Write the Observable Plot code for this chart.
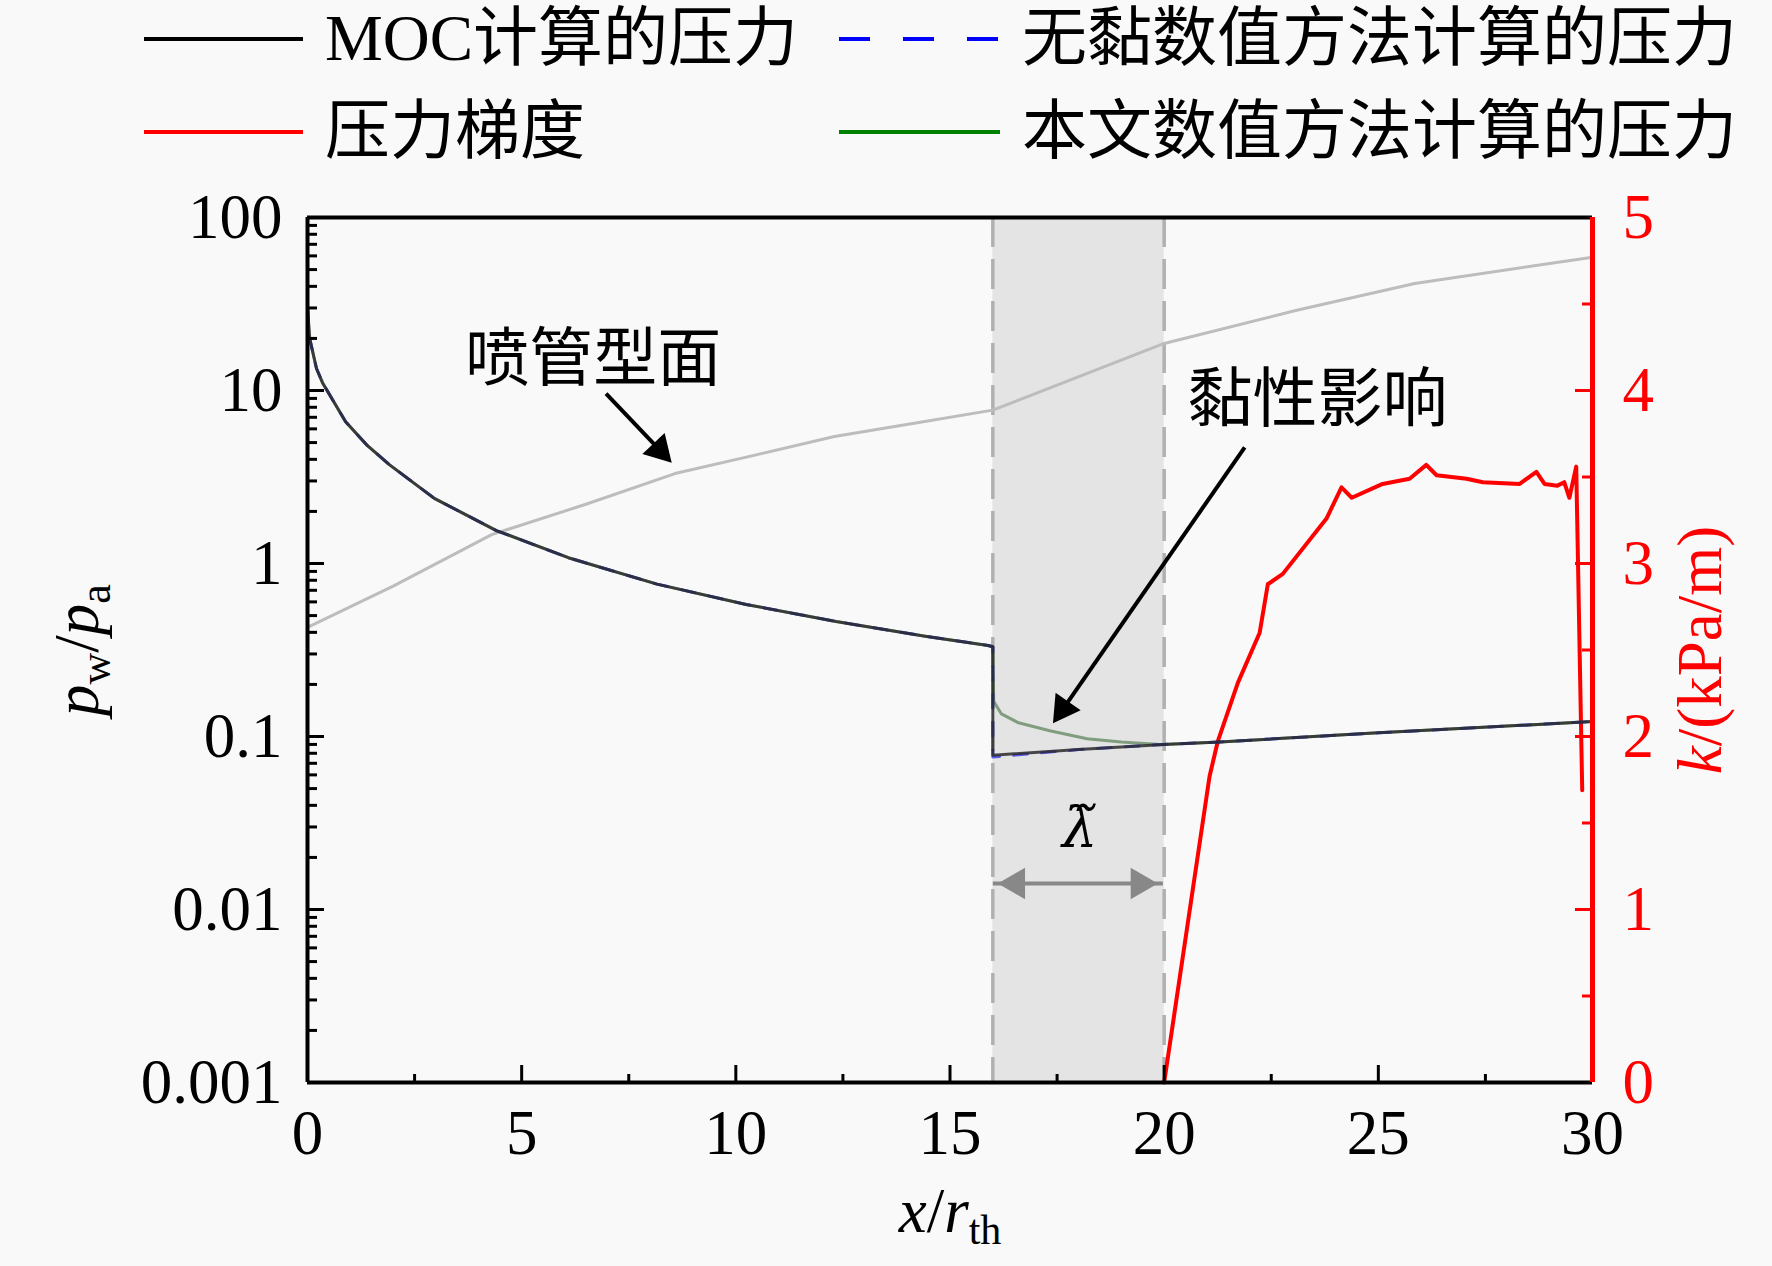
<!DOCTYPE html>
<html><head><meta charset="utf-8">
<script src="https://cdn.jsdelivr.net/npm/d3@7"></script>
<script src="https://cdn.jsdelivr.net/npm/@observablehq/plot@0.6"></script>
<style>
html,body{margin:0;padding:0;background:#f9f9f9;}
#wrap{width:1772px;height:1266px;position:relative;overflow:hidden}
svg{display:block}
</style></head><body><div id="wrap"></div>
<script>
// ---------- data ----------
const mocX = [0, 0.05, 0.21, 0.35, 0.89, 1.4, 1.91, 2.96, 4.41, 6.09, 8.16, 10.24, 12.34, 14.42, 15.89, 16.0, 16.0, 18.0, 20.0, 21.3, 25.0, 30.0];
const mocY = [30, 20, 13.4, 11.1, 6.6, 4.8, 3.73, 2.38, 1.55, 1.08, 0.76, 0.58, 0.462, 0.38, 0.336, 0.33, 0.078, 0.084, 0.09, 0.093, 0.105, 0.122];
const invX = [0, 0.05, 0.21, 0.35, 0.89, 1.4, 1.91, 2.96, 4.41, 6.09, 8.16, 10.24, 12.34, 14.42, 15.89, 16.0, 16.0, 17.0, 18.0, 20.0, 21.3, 25.0, 30.0];
const invY = [30, 20, 13.4, 11.1, 6.6, 4.8, 3.73, 2.38, 1.55, 1.08, 0.76, 0.58, 0.462, 0.38, 0.336, 0.33, 0.076, 0.080, 0.084, 0.09, 0.093, 0.105, 0.122];
const visX = [0, 0.05, 0.21, 0.35, 0.89, 1.4, 1.91, 2.96, 4.41, 6.09, 8.16, 10.24, 12.34, 14.42, 15.89, 16.0, 16.02, 16.2, 16.6, 17.33, 18.2, 19.0, 19.9, 21.3, 25.0, 30.0];
const visY = [30, 20, 13.4, 11.1, 6.6, 4.8, 3.73, 2.38, 1.55, 1.08, 0.76, 0.58, 0.462, 0.38, 0.336, 0.33, 0.16, 0.135, 0.12, 0.108, 0.097, 0.093, 0.090, 0.093, 0.105, 0.122];
const nozX = [0, 2, 4.3, 6.5, 8.58, 10.5, 12.3, 14.2, 16.0, 20.0, 23.07, 25.85, 30];
const nozY = [0.427, 0.74, 1.47, 2.2, 3.31, 4.26, 5.42, 6.49, 7.7, 18.7, 29.0, 41.5, 59];
const gradX = [20.0, 21.06, 21.25, 21.72, 22.23, 22.42, 22.77, 23.79, 24.14, 24.38, 25.1, 25.73, 26.12, 26.36, 27.06, 27.44, 28.3, 28.69, 28.88, 29.18, 29.34, 29.46, 29.62, 29.76];
const gradK = [0, 1.77, 1.97, 2.31, 2.60, 2.88, 2.94, 3.26, 3.44, 3.38, 3.46, 3.49, 3.57, 3.51, 3.49, 3.47, 3.46, 3.53, 3.46, 3.45, 3.47, 3.38, 3.56, 1.69];

const xTicks = [0, 5, 10, 15, 20, 25, 30];
const xMinor = [2.5, 7.5, 12.5, 17.5, 22.5, 27.5];
const yTicks = [0.001, 0.01, 0.1, 1, 10, 100];
const yLabels = ["0.001", "0.01", "0.1", "1", "10", "100"];
const yMinorMult = [2, 3, 4, 5, 6, 7, 8, 9];
const kTicks = [0, 1, 2, 3, 4, 5];
const kMinor = [0.5, 1.5, 2.5, 3.5, 4.5];

const viscRegion = [16, 20];
const legendLabels = ["MOC计算的压力", "无黏数值方法计算的压力", "压力梯度", "本文数值方法计算的压力"];
const annoText = [
  {t: "喷管型面", x: 6.67, y: 15.1, size: 64},
  {t: "黏性影响", x: 23.58, y: 8.75, size: 65}
];
const arrowsBlack = [
  {x1: 6.97, y1: 9.6, x2: 8.22, y2: 4.53, rot: 136.6},
  {x1: 21.88, y1: 4.69, x2: 17.64, y2: 0.1445, rot: 214.9}
];
const lamArrow = {x1: 16.0, x2: 19.97, y: 0.01413, heads: [{x: 16.54, rot: 270}, {x: 19.43, rot: 90}]};
const lamLabel = {t: "\u03BB\u0303", x: 18.03, y: 0.029};

// ---------- helpers ----------
const FONT = "'Liberation Serif','Noto Sans CJK SC',serif";
const zip = (X, Y) => X.map((x, i) => ({x, y: Y[i]}));
const kToY = k => Math.pow(10, k - 3);   // right axis (0..5 linear) onto left log scale

const W = 1772, LEGH = 180, H = 1266 - LEGH;
const mL = 307, mR = 180, mT = 37, mB = 184;
const plotW = W - mL - mR, plotH = H - mT - mB;

const yMinor = [];
for (const d of [0.001, 0.01, 0.1, 1, 10]) for (const m of yMinorMult) yMinor.push(d * m);

// ---------- legend ----------
const wrap = document.getElementById("wrap");
const leg = d3.create("svg").attr("width", W).attr("height", LEGH)
  .style("font-family", FONT).style("font-size", "65px");
const legItems = [
  {x0: 144, x1: 303, y: 39, tx: 325, ty: 60, color: "black", dash: null, label: legendLabels[0]},
  {x0: 839, x1: 1000, y: 39, tx: 1022, ty: 60, color: "#0000ff", dash: "31,33", label: legendLabels[1]},
  {x0: 144, x1: 303, y: 132, tx: 325, ty: 153, color: "#ff0000", dash: null, label: legendLabels[2]},
  {x0: 839, x1: 1000, y: 132, tx: 1022, ty: 153, color: "#008000", dash: null, label: legendLabels[3]}
];
for (const it of legItems) {
  leg.append("line").attr("x1", it.x0).attr("x2", it.x1).attr("y1", it.y).attr("y2", it.y)
    .attr("stroke", it.color).attr("stroke-width", 4).attr("stroke-dasharray", it.dash);
  leg.append("text").attr("x", it.tx).attr("y", it.ty).attr("fill", "black").text(it.label);
}
wrap.appendChild(leg.node());

// ---------- plot ----------
const chart = Plot.plot({
  width: W, height: H,
  marginLeft: mL, marginRight: mR, marginTop: mT, marginBottom: mB,
  style: {background: "transparent", fontFamily: FONT, fontSize: "63px", color: "black", overflow: "visible"},
  x: {domain: [0, 30], label: null},
  y: {type: "log", domain: [0.001, 100], label: null},
  marks: [
    Plot.rect([viscRegion], {x1: d => d[0], x2: d => d[1], y1: 0.001, y2: 100, fill: "#e4e4e4"}),
    Plot.ruleX(viscRegion, {stroke: "#b0b0b0", strokeWidth: 3.5, strokeDasharray: "30,12"}),
    Plot.line(zip(nozX, nozY), {x: "x", y: "y", stroke: "#bdbdbd", strokeWidth: 3}),
    Plot.line(zip(gradX, gradK), {x: "x", y: d => kToY(d.y), stroke: "#ff0000", strokeWidth: 4}),
    Plot.line(zip(visX, visY), {x: "x", y: "y", stroke: "#3d6e3d", strokeWidth: 3, strokeOpacity: 0.6}),
    Plot.line(zip(invX, invY), {x: "x", y: "y", stroke: "#0000ff", strokeWidth: 3, strokeDasharray: "14,14", strokeOpacity: 0.6}),
    Plot.line(zip(mocX, mocY), {x: "x", y: "y", stroke: "#2a2a2a", strokeWidth: 3, strokeOpacity: 0.85}),
    // annotations
    Plot.text(annoText, {x: "x", y: "y", text: "t", fontSize: d => d.size, fill: "black", fontFamily: FONT}),
    Plot.link(arrowsBlack, {x1: "x1", y1: "y1", x2: "x2", y2: "y2", stroke: "black", strokeWidth: 4}),
    Plot.dot(arrowsBlack, {x: "x2", y: "y2", symbol: "triangle2", r: 14.6, fill: "black", stroke: null, rotate: "rot"}),
    Plot.link([lamArrow], {x1: "x1", x2: "x2", y1: "y", y2: "y", stroke: "#888", strokeWidth: 4}),
    Plot.dot(lamArrow.heads, {x: "x", y: lamArrow.y, symbol: "triangle2", r: 15, fill: "#888", stroke: null, rotate: "rot"}),
    Plot.text([lamLabel], {x: "x", y: "y", text: "t", fontSize: 56, fontStyle: "italic", fill: "black", fontFamily: "'DejaVu Serif',serif"}),
    // ticks (inward)
    Plot.tickY(yTicks, {y: d => d, insetRight: plotW - 17, stroke: "black", strokeWidth: 3}),
    Plot.tickY(yMinor, {y: d => d, insetRight: plotW - 10, stroke: "black", strokeWidth: 3}),
    Plot.tickX(xTicks, {x: d => d, insetTop: plotH - 17, stroke: "black", strokeWidth: 3}),
    Plot.tickX(xMinor, {x: d => d, insetTop: plotH - 8, stroke: "black", strokeWidth: 3}),
    Plot.tickY(kTicks, {y: d => kToY(d), insetLeft: plotW - 17, stroke: "#ff0000", strokeWidth: 3}),
    Plot.tickY(kMinor, {y: d => kToY(d), insetLeft: plotW - 10, stroke: "#ff0000", strokeWidth: 3}),
    // frame
    Plot.ruleY([100], {stroke: "black", strokeWidth: 4}),
    Plot.ruleY([0.001], {stroke: "black", strokeWidth: 4}),
    Plot.ruleX([0], {stroke: "black", strokeWidth: 4}),
    Plot.ruleX([30], {stroke: "#ff0000", strokeWidth: 5}),
    // axes
    Plot.axisY({anchor: "left", ticks: yTicks, tickFormat: d => yLabels[yTicks.indexOf(d)], tickSize: 0, tickPadding: 25, fontSize: 63, label: null}),
    Plot.axisY({anchor: "right", ticks: kTicks.map(kToY), tickFormat: d => String(kTicks[kTicks.map(kToY).indexOf(d)]), tickSize: 0, tickPadding: 30, fontSize: 63, color: "#ff0000", label: null}),
    Plot.axisX({anchor: "bottom", ticks: xTicks, tickFormat: d => String(d), tickSize: 0, tickPadding: 27, fontSize: 63, label: null})
  ]
});

// axis titles with subscripts
const s = d3.select(chart);
const xt = s.append("text").attr("x", 950).attr("y", 1232 - LEGH).attr("text-anchor", "middle")
  .attr("font-size", 63).attr("font-family", "'Liberation Serif',serif").attr("fill", "black");
xt.append("tspan").attr("font-style", "italic").text("x");
xt.append("tspan").text("/");
xt.append("tspan").attr("font-style", "italic").text("r");
xt.append("tspan").attr("font-size", 42).attr("dy", 12).text("th");

const yt = s.append("text").attr("transform", `translate(98,${650 - LEGH}) rotate(-90)`).attr("text-anchor", "middle")
  .attr("font-size", 63).attr("font-family", "'Liberation Serif',serif").attr("fill", "black");
yt.append("tspan").attr("font-style", "italic").text("p");
yt.append("tspan").attr("font-size", 44).attr("dy", 12).text("w");
yt.append("tspan").attr("dy", -12).text("/");
yt.append("tspan").attr("font-style", "italic").text("p");
yt.append("tspan").attr("font-size", 44).attr("dy", 12).text("a");

const rt = s.append("text").attr("transform", `translate(1721,${650 - LEGH}) rotate(-90)`).attr("text-anchor", "middle")
  .attr("font-size", 63).attr("font-family", "'Liberation Serif',serif").attr("fill", "#ff0000");
rt.append("tspan").attr("font-style", "italic").text("k");
rt.append("tspan").text("/(kPa/m)");

wrap.appendChild(chart);
</script></body></html>
